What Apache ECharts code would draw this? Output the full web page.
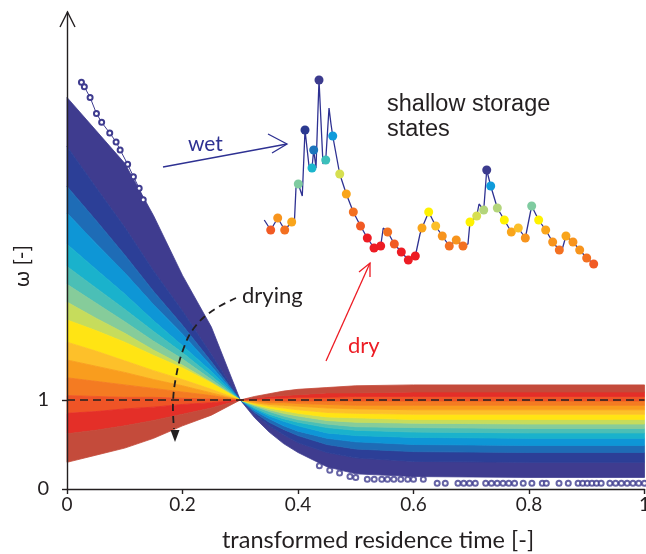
<!DOCTYPE html>
<html>
<head>
<meta charset="utf-8">
<script src="https://cdn.jsdelivr.net/npm/echarts@6/dist/echarts.min.js"></script>
<style>
html, body { margin: 0; padding: 0; background: #fff; }
#chart { width: 646px; height: 554px; }
</style>
</head>
<body>
<div id="chart"></div>
<script>
// sample times of the fan (transformed residence time)
const fanT = [0, 0.05, 0.1, 0.15, 0.2, 0.25, 0.3, 0.325, 0.35, 0.375, 0.4, 0.45, 0.5, 0.6, 0.8, 1.0];
// band boundaries (omega at each fanT), from the wettest (top at t=0) to the driest
const fanBounds = [
  [4.4, 4.03, 3.66, 3.07, 2.4, 1.82, 1, 0.8, 0.64, 0.51, 0.41, 0.25, 0.17, 0.14, 0.13, 0.13],
  [3.85, 3.39, 2.94, 2.45, 2.0, 1.51, 1, 0.84, 0.71, 0.61, 0.52, 0.41, 0.35, 0.31, 0.3, 0.3],
  [3.4, 3.02, 2.63, 2.22, 1.84, 1.43, 1, 0.86, 0.75, 0.67, 0.6, 0.5, 0.45, 0.42, 0.41, 0.41],
  [3.1, 2.76, 2.43, 2.07, 1.74, 1.38, 1, 0.88, 0.79, 0.71, 0.65, 0.57, 0.53, 0.5, 0.49, 0.49],
  [2.75, 2.47, 2.19, 1.89, 1.61, 1.32, 1, 0.9, 0.82, 0.76, 0.71, 0.63, 0.6, 0.58, 0.57, 0.57],
  [2.5, 2.26, 2.02, 1.77, 1.53, 1.27, 1, 0.91, 0.84, 0.79, 0.75, 0.69, 0.66, 0.64, 0.63, 0.63],
  [2.3, 2.09, 1.88, 1.66, 1.46, 1.23, 1, 0.93, 0.87, 0.82, 0.78, 0.73, 0.7, 0.69, 0.68, 0.68],
  [2.1, 1.92, 1.75, 1.56, 1.39, 1.2, 1, 0.94, 0.89, 0.85, 0.82, 0.77, 0.75, 0.74, 0.73, 0.73],
  [1.9, 1.78, 1.65, 1.5, 1.36, 1.19, 1, 0.95, 0.91, 0.88, 0.85, 0.81, 0.8, 0.78, 0.78, 0.78],
  [1.65, 1.55, 1.44, 1.33, 1.23, 1.12, 1, 0.96, 0.93, 0.91, 0.89, 0.86, 0.85, 0.84, 0.84, 0.84],
  [1.45, 1.38, 1.31, 1.23, 1.16, 1.08, 1, 0.97, 0.95, 0.94, 0.93, 0.91, 0.9, 0.89, 0.89, 0.89],
  [1.25, 1.21, 1.17, 1.13, 1.09, 1.05, 1, 0.99, 0.97, 0.97, 0.96, 0.95, 0.94, 0.94, 0.94, 0.94],
  [1.05, 1.04, 1.03, 1.03, 1.02, 1.01, 1, 1.0, 1.0, 0.99, 0.99, 0.99, 0.99, 0.99, 0.99, 0.99],
  [0.85, 0.87, 0.9, 0.92, 0.95, 0.97, 1, 1.01, 1.02, 1.02, 1.03, 1.03, 1.04, 1.04, 1.04, 1.04],
  [0.62, 0.66, 0.71, 0.77, 0.84, 0.91, 1, 1.02, 1.04, 1.05, 1.06, 1.08, 1.08, 1.09, 1.09, 1.09],
  [0.3, 0.38, 0.46, 0.57, 0.71, 0.83, 1, 1.04, 1.07, 1.1, 1.12, 1.14, 1.16, 1.17, 1.17, 1.17]
];
const fanColors = ['#3f3c8f', '#2c3f97', '#1e6cb6', '#0e96d6', '#1ab2cc', '#4bbfb6', '#86cc9a',
  '#c6dc5c', '#ffe414', '#fdc02a', '#f99d1e', '#f47b22', '#ef5426', '#e42f28', '#c44b3b'];

// outlying single trajectories (open markers)
const topTrace = [[0.025, 4.57], [0.03, 4.52], [0.04, 4.4], [0.051, 4.22], [0.06, 4.12], [0.074, 4.0],
  [0.085, 3.9], [0.092, 3.81], [0.105, 3.65], [0.115, 3.51], [0.125, 3.38], [0.132, 3.25]];
const bottomTrace = [[0.437, 0.26], [0.455, 0.21], [0.472, 0.18], [0.49, 0.14], [0.5, 0.13], [0.52, 0.11],
  [0.532, 0.11], [0.545, 0.11], [0.555, 0.11], [0.566, 0.11], [0.578, 0.11], [0.59, 0.11], [0.6, 0.11],
  [0.617, 0.11], [0.641, 0.065], [0.655, 0.065], [0.677, 0.065], [0.687, 0.065], [0.697, 0.065],
  [0.707, 0.065], [0.725, 0.065], [0.735, 0.065], [0.745, 0.065], [0.755, 0.065], [0.765, 0.065],
  [0.775, 0.065], [0.79, 0.065], [0.805, 0.065], [0.823, 0.065], [0.83, 0.065], [0.852, 0.065],
  [0.868, 0.065], [0.885, 0.065], [0.893, 0.065], [0.901, 0.065], [0.909, 0.065], [0.917, 0.065],
  [0.925, 0.065], [0.94, 0.065], [0.95, 0.065], [0.96, 0.065], [0.97, 0.065], [0.98, 0.065],
  [0.99, 0.065], [1.0, 0.065]];
const refLine = [[0, 1], [1, 1]];
const xTicks = [0, 0.2, 0.4, 0.6, 0.8, 1];
const yTicks = [0, 1];

// shallow storage states inset
const stepX = [0.61, 1.53, 2.53, 3.53, 4.53, 4.9, 5.14, 5.47, 6.04, 6.43, 7.0, 7.43, 7.67, 8.0, 8.43, 9.0,
  9.39, 9.86, 10.14, 10.39, 11.39, 12.33, 13.33, 14.36, 15.33, 16.29, 17.24, 17.61, 18.24, 19.19, 20.19,
  21.19, 22.19, 22.86, 23.14, 24.1, 25.1, 26.04, 27.04, 28.04, 29.0, 29.71, 30.0, 30.96, 31.29, 31.57,
  31.96, 32.39, 32.96, 33.9, 34.9, 35.9, 36.9, 37.9, 38.81, 39.81, 40.81, 41.81, 42.76, 43.14, 43.71,
  44.71, 45.67, 46.67, 47.67];
const storageY = [0.25, 0.2, 0.26, 0.2, 0.24, 0.23, 0.41, 0.43, 0.37, 0.7, 0.52, 0.51, 0.6, 0.51, 0.95,
  0.53, 0.55, 0.81, 0.73, 0.67, 0.48, 0.38, 0.29, 0.22, 0.16, 0.11, 0.12, 0.21, 0.19, 0.13, 0.09, 0.05,
  0.07, 0.18, 0.21, 0.29, 0.22, 0.17, 0.12, 0.15, 0.12, 0.13, 0.24, 0.27, 0.33, 0.32, 0.3, 0.5, 0.42,
  0.31, 0.25, 0.19, 0.21, 0.16, 0.32, 0.25, 0.2, 0.14, 0.1, 0.1, 0.17, 0.14, 0.1, 0.06, 0.03];
// colour class of each marked state (null = no marker)
const storageState = [null, 14, 12, 13, 11, null, null, 6, null, 1, null, 4, 2, null, 0, null, 5, null,
  null, 3, 8, 11, 13, 14, 15, 15, 15, null, 13, 14, 15, 15, 15, null, 11, 9, 10, 12, 13, 12, 13, null,
  9, 8, null, null, 7, 0, 3, 7, 9, 11, 10, 12, 6, 9, 11, 12, 13, null, 11, 12, 12, 13, 14];
const statePalette = ['#3c3b8e', '#2b3990', '#1c75bc', '#0f9bdb', '#1bb5cc', '#3cbfbb', '#7fcba0',
  '#b3d57b', '#d6df50', '#fff200', '#fbbf2a', '#f9a51b', '#f7941d', '#f37021', '#f15a24', '#ed1c24', '#c1473a'];

const ink = '#231f20';
const sansFont = 'Lato, "Noto Sans", sans-serif';

const chart = echarts.init(document.getElementById('chart'));

function renderBand(params, api) {
  const i = params.dataIndex;
  const upper = fanBounds[i];
  const lower = fanBounds[i + 1];
  const pts = [];
  fanT.forEach((t, k) => pts.push(api.coord([t, upper[k]])));
  for (let k = fanT.length - 1; k >= 0; k--) pts.push(api.coord([fanT[k], lower[k]]));
  return {
    type: 'polygon',
    shape: { points: pts },
    style: { fill: fanColors[i], stroke: fanColors[i], lineWidth: 0.8 }
  };
}

const storagePts = stepX.map((x, i) => [x, storageY[i]]);
const storageDots = [];
stepX.forEach((x, i) => {
  if (storageState[i] !== null) storageDots.push([x, storageY[i], storageState[i]]);
});

const option = {
  animation: false,
  grid: [
    { left: 67, right: 1.5, top: 12, bottom: 65, outerBoundsMode: 'none', containLabel: false },
    { left: 260, top: 70, width: 350, height: 200, outerBoundsMode: 'none', containLabel: false }
  ],
  xAxis: [
    {
      type: 'value', min: 0, max: 1, interval: 0.2, z: 10,
      axisLine: { show: true, lineStyle: { color: ink, width: 1.4 } },
      axisTick: { show: true, length: 5, customValues: xTicks, lineStyle: { color: ink, width: 1.4 } },
      axisLabel: {
        customValues: xTicks, margin: 6, fontSize: 19, color: ink, fontFamily: sansFont,
        formatter: v => String(+(+v).toFixed(1))
      },
      splitLine: { show: false }
    },
    { gridIndex: 1, type: 'value', min: 0, max: 50, show: false }
  ],
  yAxis: [
    {
      type: 'value', min: 0, max: 5.36, z: 10,
      axisLine: { show: true, lineStyle: { color: ink, width: 1.4 } },
      axisTick: { show: true, length: 5, customValues: yTicks, lineStyle: { color: ink, width: 1.4 } },
      axisLabel: { customValues: yTicks, margin: 18, fontSize: 20, color: ink, fontFamily: sansFont },
      splitLine: { show: false }
    },
    { gridIndex: 1, type: 'value', min: 0, max: 1, show: false }
  ],
  series: [
    {
      type: 'custom', name: 'fan', renderItem: renderBand, z: 2,
      data: fanColors.map((c, i) => i)
    },
    {
      type: 'line', data: topTrace, z: 3, symbol: 'emptyCircle', symbolSize: 5,
      lineStyle: { color: '#3f3c8f', width: 1 }, itemStyle: { color: '#3f3c8f', borderWidth: 1 }
    },
    {
      type: 'scatter', data: bottomTrace, z: 3, symbol: 'emptyCircle', symbolSize: 5,
      itemStyle: { color: '#3f3c8f', borderWidth: 1 }
    },
    {
      type: 'line', data: refLine, z: 4, symbol: 'none',
      lineStyle: { color: ink, width: 1.5, type: [8, 5] }
    },
    {
      type: 'line', xAxisIndex: 1, yAxisIndex: 1, data: storagePts, z: 5, symbol: 'none',
      lineStyle: { color: '#2e3192', width: 1.3 }
    },
    {
      type: 'scatter', xAxisIndex: 1, yAxisIndex: 1, data: storageDots, z: 6, symbolSize: 9,
      itemStyle: { color: p => statePalette[p.data[2]], opacity: 1 }
    }
  ],
  graphic: [
    // arrow head of the omega axis
    { type: 'polyline', z: 20, shape: { points: [[60, 27], [67.5, 12], [75, 27]] },
      style: { stroke: ink, lineWidth: 1.4, fill: null } },
    { type: 'text', z: 20, x: 22, y: 266, rotation: Math.PI / 2,
      style: { text: 'ω [-]', font: '21px ' + sansFont, fill: ink, align: 'center', verticalAlign: 'middle' } },
    { type: 'text', z: 20, x: 378, y: 540,
      style: { text: 'transformed residence time [-]', font: '23.5px ' + sansFont, fill: ink, align: 'center', verticalAlign: 'middle' } },
    // wet
    { type: 'text', z: 20, x: 188, y: 144,
      style: { text: 'wet', font: '21px ' + sansFont, fill: '#2e3192', align: 'left', verticalAlign: 'middle' } },
    { type: 'polyline', z: 20, shape: { points: [[163, 167], [287, 144]] }, style: { stroke: '#2e3192', lineWidth: 1.3 } },
    { type: 'polyline', z: 20, shape: { points: [[268, 134], [287, 144], [272, 153]] },
      style: { stroke: '#2e3192', lineWidth: 1.3, fill: null } },
    // dry
    { type: 'text', z: 20, x: 348, y: 346,
      style: { text: 'dry', font: '22px ' + sansFont, fill: '#ed1c24', align: 'left', verticalAlign: 'middle' } },
    { type: 'polyline', z: 20, shape: { points: [[326, 361], [370, 263]] }, style: { stroke: '#ed1c24', lineWidth: 1.3 } },
    { type: 'polyline', z: 20, shape: { points: [[359, 272], [370, 263], [370, 277]] },
      style: { stroke: '#ed1c24', lineWidth: 1.3, fill: null } },
    // drying
    { type: 'text', z: 20, x: 242, y: 296,
      style: { text: 'drying', font: '22px ' + sansFont, fill: ink, align: 'left', verticalAlign: 'middle' } },
    { type: 'polyline', z: 20,
      shape: { points: [[236, 298], [212, 311], [194, 328], [183, 350], [176, 377], [173, 403], [174, 429]], smooth: 0.4 },
      style: { stroke: ink, lineWidth: 1.8, lineDash: [7, 5], fill: null } },
    { type: 'polygon', z: 20, shape: { points: [[170.5, 430], [179.5, 430], [175, 442]] }, style: { fill: ink } },
    // inset title
    { type: 'text', z: 20, x: 387, y: 105,
      style: { text: 'shallow storage', font: '23.5px "Liberation Sans", Arial, sans-serif', fill: ink, align: 'left', verticalAlign: 'middle' } },
    { type: 'text', z: 20, x: 387, y: 130,
      style: { text: 'states', font: '23.5px "Liberation Sans", Arial, sans-serif', fill: ink, align: 'left', verticalAlign: 'middle' } }
  ]
};

chart.setOption(option);
</script>
</body>
</html>
